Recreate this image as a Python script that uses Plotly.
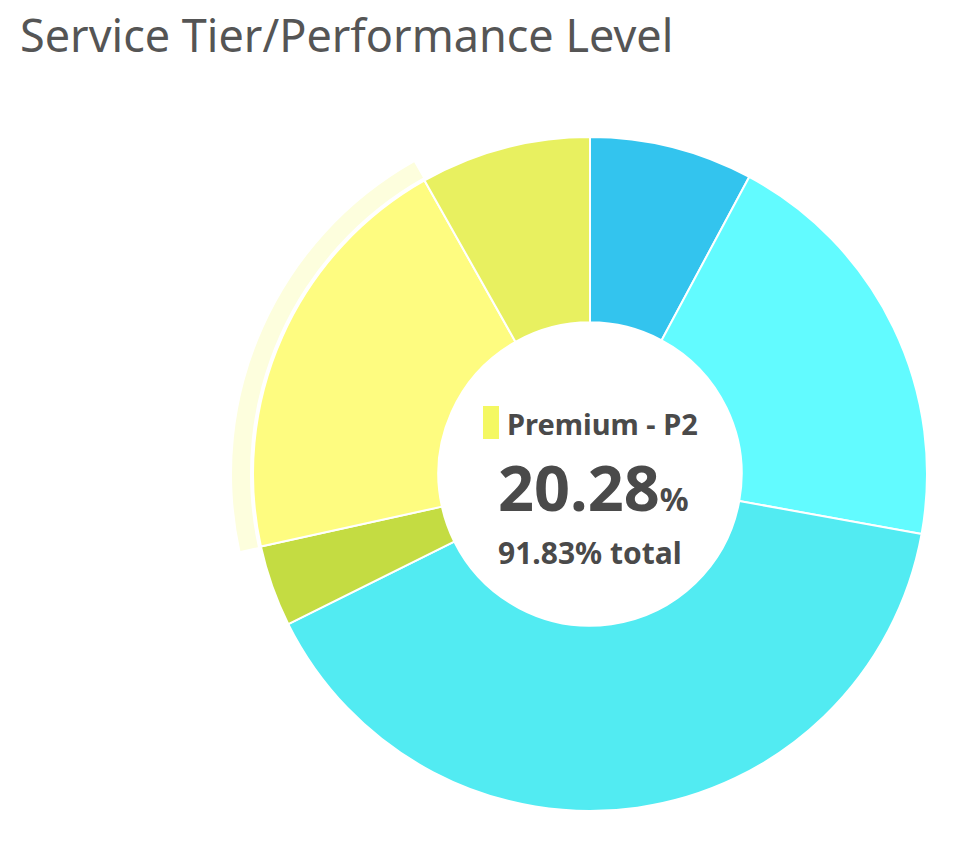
import plotly.graph_objects as go

labels = ["Standard - S0", "Standard - S1", "Standard - S2", "Premium - P1", "Premium - P2", "Premium - P4"]
values = [7.83, 20.02, 39.80, 3.90, 20.28, 8.17]
colors = ["#33C4EE", "#62FBFF", "#52EBF2", "#C4DC42", "#FEFC80", "#E8F060"]
highlight_index = 4
halo_color = "#FDFEDD"
title_text = "Service Tier/Performance Level"
center_pct = "20.28"
center_total = "91.83% total"

W, H = 972, 850
cx, cy = 590, 474
r_out = 337
r_halo = 358
r_halo_in = 340

def dom(r):
    return dict(x=[(cx - r) / W, (cx + r) / W], y=[(H - cy - r) / H, (H - cy + r) / H])

halo_colors = [halo_color if i == highlight_index else "rgba(0,0,0,0)" for i in range(len(values))]

fig = go.Figure()
fig.add_trace(go.Pie(
    labels=labels, values=values, sort=False, direction="clockwise", rotation=0,
    hole=r_halo_in / r_halo, domain=dom(r_halo),
    marker=dict(colors=halo_colors, line=dict(width=0)),
    textinfo="none", hoverinfo="skip", showlegend=False,
))
fig.add_trace(go.Pie(
    labels=labels, values=values, sort=False, direction="clockwise", rotation=0,
    hole=0.45, domain=dom(r_out),
    marker=dict(colors=colors, line=dict(color="white", width=2)),
    textinfo="none", hoverinfo="skip", showlegend=False,
))

def py(y):
    return (H - y) / H

def px(x):
    return x / W

fig.add_annotation(text=title_text, xref="paper", yref="paper", x=px(18), y=py(35),
                   xanchor="left", yanchor="middle", showarrow=False,
                   font=dict(family="Noto Sans", size=45, color="#555555"))
fig.add_annotation(text="<b>" + labels[highlight_index] + "</b>", xref="paper", yref="paper",
                   x=px(602), y=py(423), xanchor="center", yanchor="middle", showarrow=False,
                   font=dict(family="Noto Sans", size=29, color="#4A4A4A"))
fig.add_annotation(text="<b>" + center_pct + "<span style='font-size:32px'>%</span></b>",
                   xref="paper", yref="paper", x=px(593), y=py(486), xanchor="center", yanchor="middle",
                   showarrow=False, font=dict(family="Noto Sans", size=63, color="#4A4A4A"))
fig.add_annotation(text="<b>" + center_total + "</b>", xref="paper", yref="paper",
                   x=px(590), y=py(552), xanchor="center", yanchor="middle", showarrow=False,
                   font=dict(family="Noto Sans", size=30, color="#4A4A4A"))
fig.add_shape(type="rect", xref="paper", yref="paper", x0=px(483), x1=px(499), y0=py(439), y1=py(406),
              fillcolor="#F4F862", line=dict(width=0))

fig.update_layout(width=W, height=H, margin=dict(l=0, r=0, t=0, b=0),
                  paper_bgcolor="white", plot_bgcolor="white")
fig.write_html("out.html")
